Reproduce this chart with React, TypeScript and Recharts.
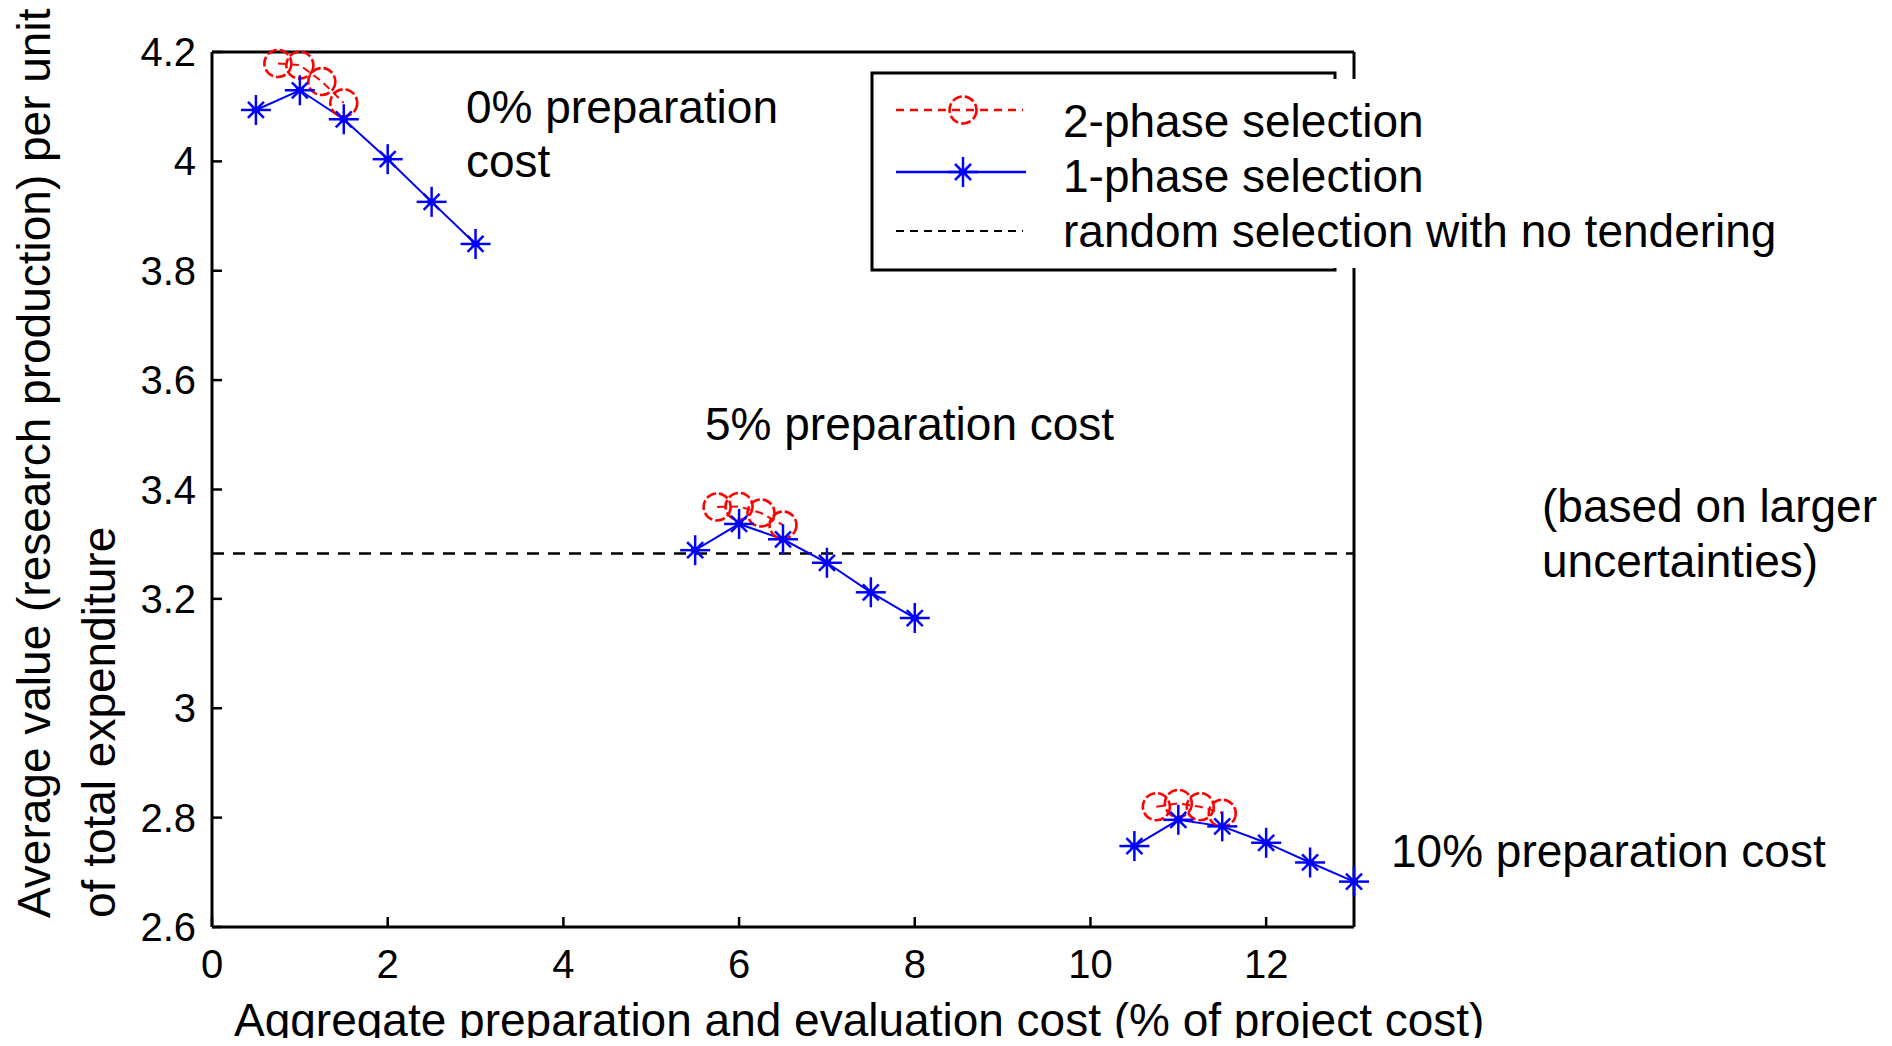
import React from 'react'
import { LineChart, Line, XAxis, YAxis, ReferenceLine } from 'recharts'

// x positions of each preparation-cost group (0%, 5%, 10%)
const onePhaseX = [
  [0.5, 1, 1.5, 2, 2.5, 3],
  [5.5, 6, 6.5, 7, 7.5, 8],
  [10.5, 11, 11.5, 12, 12.5, 13],
]
const onePhaseY = [
  [4.094, 4.13, 4.077, 4.004, 3.926, 3.849],
  [3.289, 3.337, 3.309, 3.266, 3.212, 3.165],
  [2.748, 2.796, 2.784, 2.754, 2.718, 2.683],
]
const twoPhaseX = [
  [0.75, 1, 1.25, 1.5],
  [5.75, 6, 6.25, 6.5],
  [10.75, 11, 11.25, 11.5],
]
const twoPhaseY = [
  [4.179, 4.176, 4.146, 4.107],
  [3.368, 3.369, 3.357, 3.335],
  [2.82, 2.826, 2.82, 2.808],
]
const randomY = 3.283

const xTicks = [0, 2, 4, 6, 8, 10, 12]
const yTicks = [2.6, 2.8, 3, 3.2, 3.4, 3.6, 3.8, 4, 4.2]
const legendLabels = ['2-phase selection', '1-phase selection', 'random selection with no tendering']

const FONT = '"Liberation Sans", Arial, sans-serif'
const BLUE = '#0000ff'
const RED = '#ff0000'

function Star({ cx, cy }: { cx: number; cy: number }) {
  return (
    <g stroke={BLUE} strokeWidth={2.5}>
      <line x1={cx - 15} y1={cy} x2={cx + 15} y2={cy} />
      <line x1={cx} y1={cy - 15} x2={cx} y2={cy + 15} />
      <line x1={cx - 8} y1={cy - 8} x2={cx + 8} y2={cy + 8} />
      <line x1={cx - 8} y1={cy + 8} x2={cx + 8} y2={cy - 8} />
      <rect x={cx - 4} y={cy - 3} width={8} height={6} fill={BLUE} stroke="none" />
    </g>
  )
}

function Ring({ cx, cy }: { cx: number; cy: number }) {
  return <circle cx={cx} cy={cy} r={13.5} fill="none" stroke={RED} strokeWidth={2.6} strokeDasharray="10 3" />
}

const fmt = (v: number) => (Number.isInteger(v) ? String(v) : v.toFixed(1))

// eslint-disable-next-line @typescript-eslint/no-explicit-any
const bottomTick = (p: any) => (
  <g>
    <line x1={p.x} y1={p.y} x2={p.x} y2={p.y - 10} stroke="#000" strokeWidth={2.5} />
    <text x={p.x} y={p.y + 51} textAnchor="middle" fontSize={40} fontFamily={FONT} fill="#000">
      {fmt(p.payload.value)}
    </text>
  </g>
)
// eslint-disable-next-line @typescript-eslint/no-explicit-any
const topTick = (p: any) => (
  <line x1={p.x} y1={p.y} x2={p.x} y2={p.y + 10} stroke="#000" strokeWidth={2.5} />
)
// eslint-disable-next-line @typescript-eslint/no-explicit-any
const leftTick = (p: any) => (
  <g>
    <line x1={p.x} y1={p.y} x2={p.x + 10} y2={p.y} stroke="#000" strokeWidth={2.5} />
    <text x={p.x - 16} y={p.y + 14} textAnchor="end" fontSize={40} fontFamily={FONT} fill="#000">
      {fmt(p.payload.value)}
    </text>
  </g>
)
// eslint-disable-next-line @typescript-eslint/no-explicit-any
const rightTick = (p: any) => (
  <line x1={p.x} y1={p.y} x2={p.x - 10} y2={p.y} stroke="#000" strokeWidth={2.5} />
)

export default function App() {
  const oneData = onePhaseX.map((xs, g) => xs.map((x, i) => ({ x, y: onePhaseY[g][i] })))
  const twoData = twoPhaseX.map((xs, g) => xs.map((x, i) => ({ x, y: twoPhaseY[g][i] })))
  const axisLine = { stroke: '#000', strokeWidth: 3 }
  const textStyle = { fontFamily: FONT, fontSize: 46, fill: '#000' }

  return (
    <div style={{ position: 'relative', width: 1876, height: 1030 }}>
      <LineChart width={1876} height={1030} margin={{ top: 43, right: 529, bottom: 51, left: 54 }}>
        <XAxis
          dataKey="x" type="number" domain={[0, 13]} ticks={xTicks} interval={0}
          height={60} tickSize={0} tickMargin={0} tickLine={false}
          axisLine={axisLine} tick={bottomTick}
        />
        <XAxis
          xAxisId="top" orientation="top" dataKey="x" type="number" domain={[0, 13]} ticks={xTicks}
          interval={0} height={1} tickSize={0} tickMargin={0} tickLine={false}
          axisLine={axisLine} tick={topTick}
        />
        <YAxis
          type="number" domain={[2.6, 4.2]} ticks={yTicks} interval={0}
          width={150} tickSize={0} tickMargin={0} tickLine={false} axisLine={axisLine} tick={leftTick}
        />
        <YAxis
          yAxisId="right" orientation="right" type="number" domain={[2.6, 4.2]} ticks={yTicks}
          interval={0} width={1} tickSize={0} tickMargin={0} tickLine={false}
          axisLine={axisLine} tick={rightTick}
        />
        <ReferenceLine y={randomY} stroke="#000" strokeWidth={2.5} strokeDasharray="12 9" />
        {twoData.map((d, g) => (
          <Line
            key={'two' + g} data={d} dataKey="y" stroke={RED} strokeWidth={2} strokeDasharray="8 5"
            isAnimationActive={false}
            // eslint-disable-next-line @typescript-eslint/no-explicit-any
            dot={(p: any) => <Ring key={'r' + g + '-' + p.index} cx={p.cx} cy={p.cy} />}
          />
        ))}
        {oneData.map((d, g) => (
          <Line
            key={'one' + g} data={d} dataKey="y" stroke={BLUE} strokeWidth={2}
            isAnimationActive={false}
            // eslint-disable-next-line @typescript-eslint/no-explicit-any
            dot={(p: any) => <Star key={'s' + g + '-' + p.index} cx={p.cx} cy={p.cy} />}
          />
        ))}
      </LineChart>

      <svg
        width={1876} height={1030}
        style={{ position: 'absolute', left: 0, top: 0, overflow: 'visible', pointerEvents: 'none' }}
      >
        {/* legend box; its white text area hides the right edges */}
        <rect x={864} y={65} width={463} height={197} fill="#fff" stroke="#000" strokeWidth={3} />
        <rect x={1318} y={71} width={42} height={189} fill="#fff" />
        <line x1={888} y1={102} x2={1015} y2={102} stroke={RED} strokeWidth={2.5} strokeDasharray="8 6" />
        <Ring cx={955} cy={102} />
        <line x1={888} y1={164} x2={1018} y2={164} stroke={BLUE} strokeWidth={2.5} />
        <Star cx={955} cy={164} />
        <line x1={888} y1={223} x2={1015} y2={223} stroke="#000" strokeWidth={2} strokeDasharray="8 6" />
        {legendLabels.map((t, i) => (
          <text key={t} x={1055} y={129 + i * 55} {...textStyle}>{t}</text>
        ))}

        {/* annotations */}
        <text x={458} y={115} {...textStyle}>0% preparation</text>
        <text x={458} y={169} {...textStyle}>cost</text>
        <text x={697} y={432} {...textStyle}>5% preparation cost</text>
        <text x={1534} y={514} {...textStyle}>(based on larger</text>
        <text x={1534} y={569} {...textStyle}>uncertainties)</text>
        <text x={1383} y={859} {...textStyle}>10% preparation cost</text>

        {/* axis titles */}
        <text x={226} y={1028} {...textStyle}>Aggregate preparation and evaluation cost (% of project cost)</text>
        <text transform="translate(42,910) rotate(-90)" {...textStyle}>Average value (research production) per unit</text>
        <text transform="translate(107,910) rotate(-90)" {...textStyle}>of total expenditure</text>
      </svg>
    </div>
  )
}
